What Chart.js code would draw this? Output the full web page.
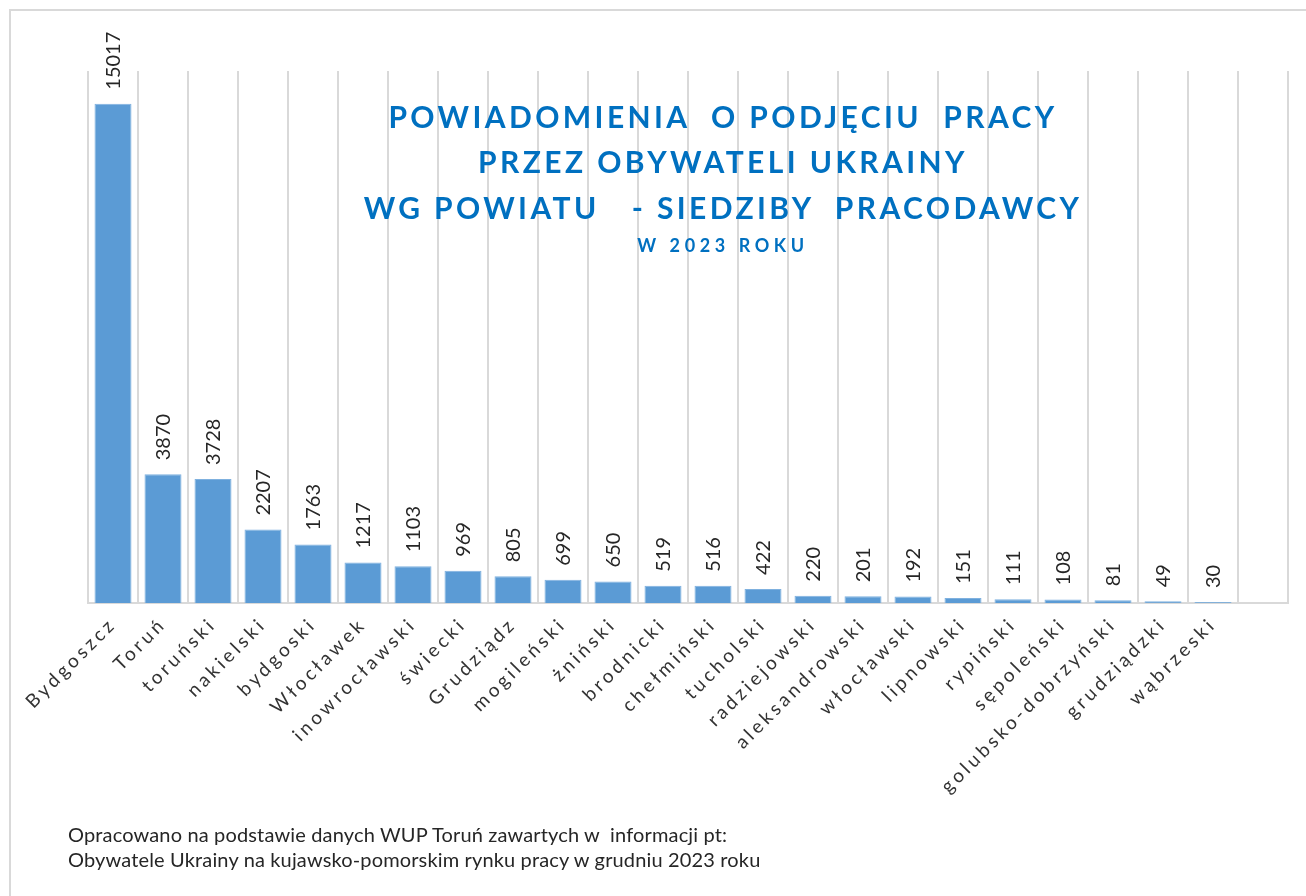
<!DOCTYPE html>
<html lang="pl">
<head>
<meta charset="utf-8">
<title>Powiadomienia o podjęciu pracy przez obywateli Ukrainy 2023</title>
<script src="https://cdn.jsdelivr.net/npm/chart.js@4/dist/chart.umd.min.js"></script>
<style>
  html, body { margin: 0; padding: 0; background: #fff; overflow: hidden; }
  body { width: 1306px; height: 896px; position: relative; font-family: Lato, "Open Sans", sans-serif; }
  .frame { position: absolute; left: 9px; top: 9px; width: 1400px; height: 1000px;
           border-left: 2px solid #d9d9d9; border-top: 2px solid #d9d9d9; }
  #wykres { position: absolute; left: 0; top: 0; }
  .tytul { position: absolute; left: 723px; transform: translate(-50%, -50%); white-space: pre;
           color: #0070c0; font-weight: bold; text-align: center; }
  .t1 { font-size: 30px; letter-spacing: 3.4px; }
  .t2 { font-size: 18px; letter-spacing: 4.6px; }
  .zrodlo { position: absolute; left: 68px; top: 822px; font-size: 20px; letter-spacing: 0.15px;
            line-height: 25px; color: #262626; white-space: pre; }
</style>
</head>
<body>
<div class="frame"></div>
<canvas id="wykres" width="1306" height="896"></canvas>

<div class="tytul t1" style="top:116px">POWIADOMIENIA  O PODJĘCIU  PRACY</div>
<div class="tytul t1" style="top:161px">PRZEZ OBYWATELI UKRAINY</div>
<div class="tytul t1" style="top:207px">WG POWIATU   - SIEDZIBY  PRACODAWCY</div>
<div class="tytul t2" style="top:245px">W 2023 ROKU</div>

<div class="zrodlo">Opracowano na podstawie danych WUP Toruń zawartych w  informacji pt:
Obywatele Ukrainy na kujawsko-pomorskim rynku pracy w grudniu 2023 roku</div>

<script>
// powiaty (ostatnia kolumna pusta, jak w arkuszu)
var powiaty = ['Bydgoszcz', 'Toruń', 'toruński', 'nakielski', 'bydgoski', 'Włocławek',
    'inowrocławski', 'świecki', 'Grudziądz', 'mogileński', 'żniński', 'brodnicki',
    'chełmiński', 'tucholski', 'radziejowski', 'aleksandrowski', 'włocławski',
    'lipnowski', 'rypiński', 'sępoleński', 'golubsko-dobrzyński', 'grudziądzki',
    'wąbrzeski', ''];
var powiadomienia = [15017, 3870, 3728, 2207, 1763, 1217, 1103, 969, 805, 699, 650,
    519, 516, 422, 220, 201, 192, 151, 111, 108, 81, 49, 30, null];
var osY = { min: 0, max: 16000 };

var szary = '#d9d9d9';

/* rozstrzelone etykiety osi X */
var odstepLiter = {
    id: 'odstepLiter',
    beforeDraw: function (chart) { chart.ctx.letterSpacing = '3.5px'; },
    beforeDatasetsDraw: function (chart) { chart.ctx.letterSpacing = '0px'; }
};

/* wartości nad słupkami, obrócone pionowo */
var wartosci = {
    id: 'wartosci',
    afterDatasetsDraw: function (chart) {
        var ctx = chart.ctx;
        var meta = chart.getDatasetMeta(0);
        meta.data.forEach(function (bar, i) {
            var v = chart.data.datasets[0].data[i];
            if (v === null || v === undefined) return;
            ctx.save();
            ctx.translate(bar.x, bar.y - 14);
            ctx.rotate(-Math.PI / 2);
            ctx.font = '20px Lato';
            ctx.fillStyle = '#262626';
            ctx.textAlign = 'left';
            ctx.textBaseline = 'middle';
            ctx.fillText(String(v), 0, 1);
            ctx.restore();
        });
    }
};

var wykres = new Chart(document.getElementById('wykres'), {
    type: 'bar',
    data: {
        labels: powiaty,
        datasets: [{
            label: 'Powiadomienia',
            data: powiadomienia,
            backgroundColor: '#5b9bd5',
            borderColor: '#7fb1df',
            borderWidth: 1,
            categoryPercentage: 1,
            barPercentage: 0.74
        }]
    },
    options: {
        responsive: false,
        animation: false,
        layout: { padding: { left: 88, right: 18, top: 71, bottom: 0 } },
        plugins: {
            legend: { display: false },
            title: { display: false },
            tooltip: { enabled: false }
        },
        scales: {
            x: {
                grid: { color: szary, lineWidth: 2, drawTicks: false, offset: true },
                border: { color: szary, width: 2 },
                ticks: {
                    autoSkip: false,
                    minRotation: 45,
                    maxRotation: 45,
                    padding: 10,
                    color: '#333333',
                    font: { family: 'Lato', size: 19 }
                },
                afterFit: function (scale) { scale.height = 293; }
            },
            y: {
                display: false,
                min: osY.min,
                max: osY.max
            }
        }
    },
    plugins: [odstepLiter, wartosci]
});
</script>
</body>
</html>
